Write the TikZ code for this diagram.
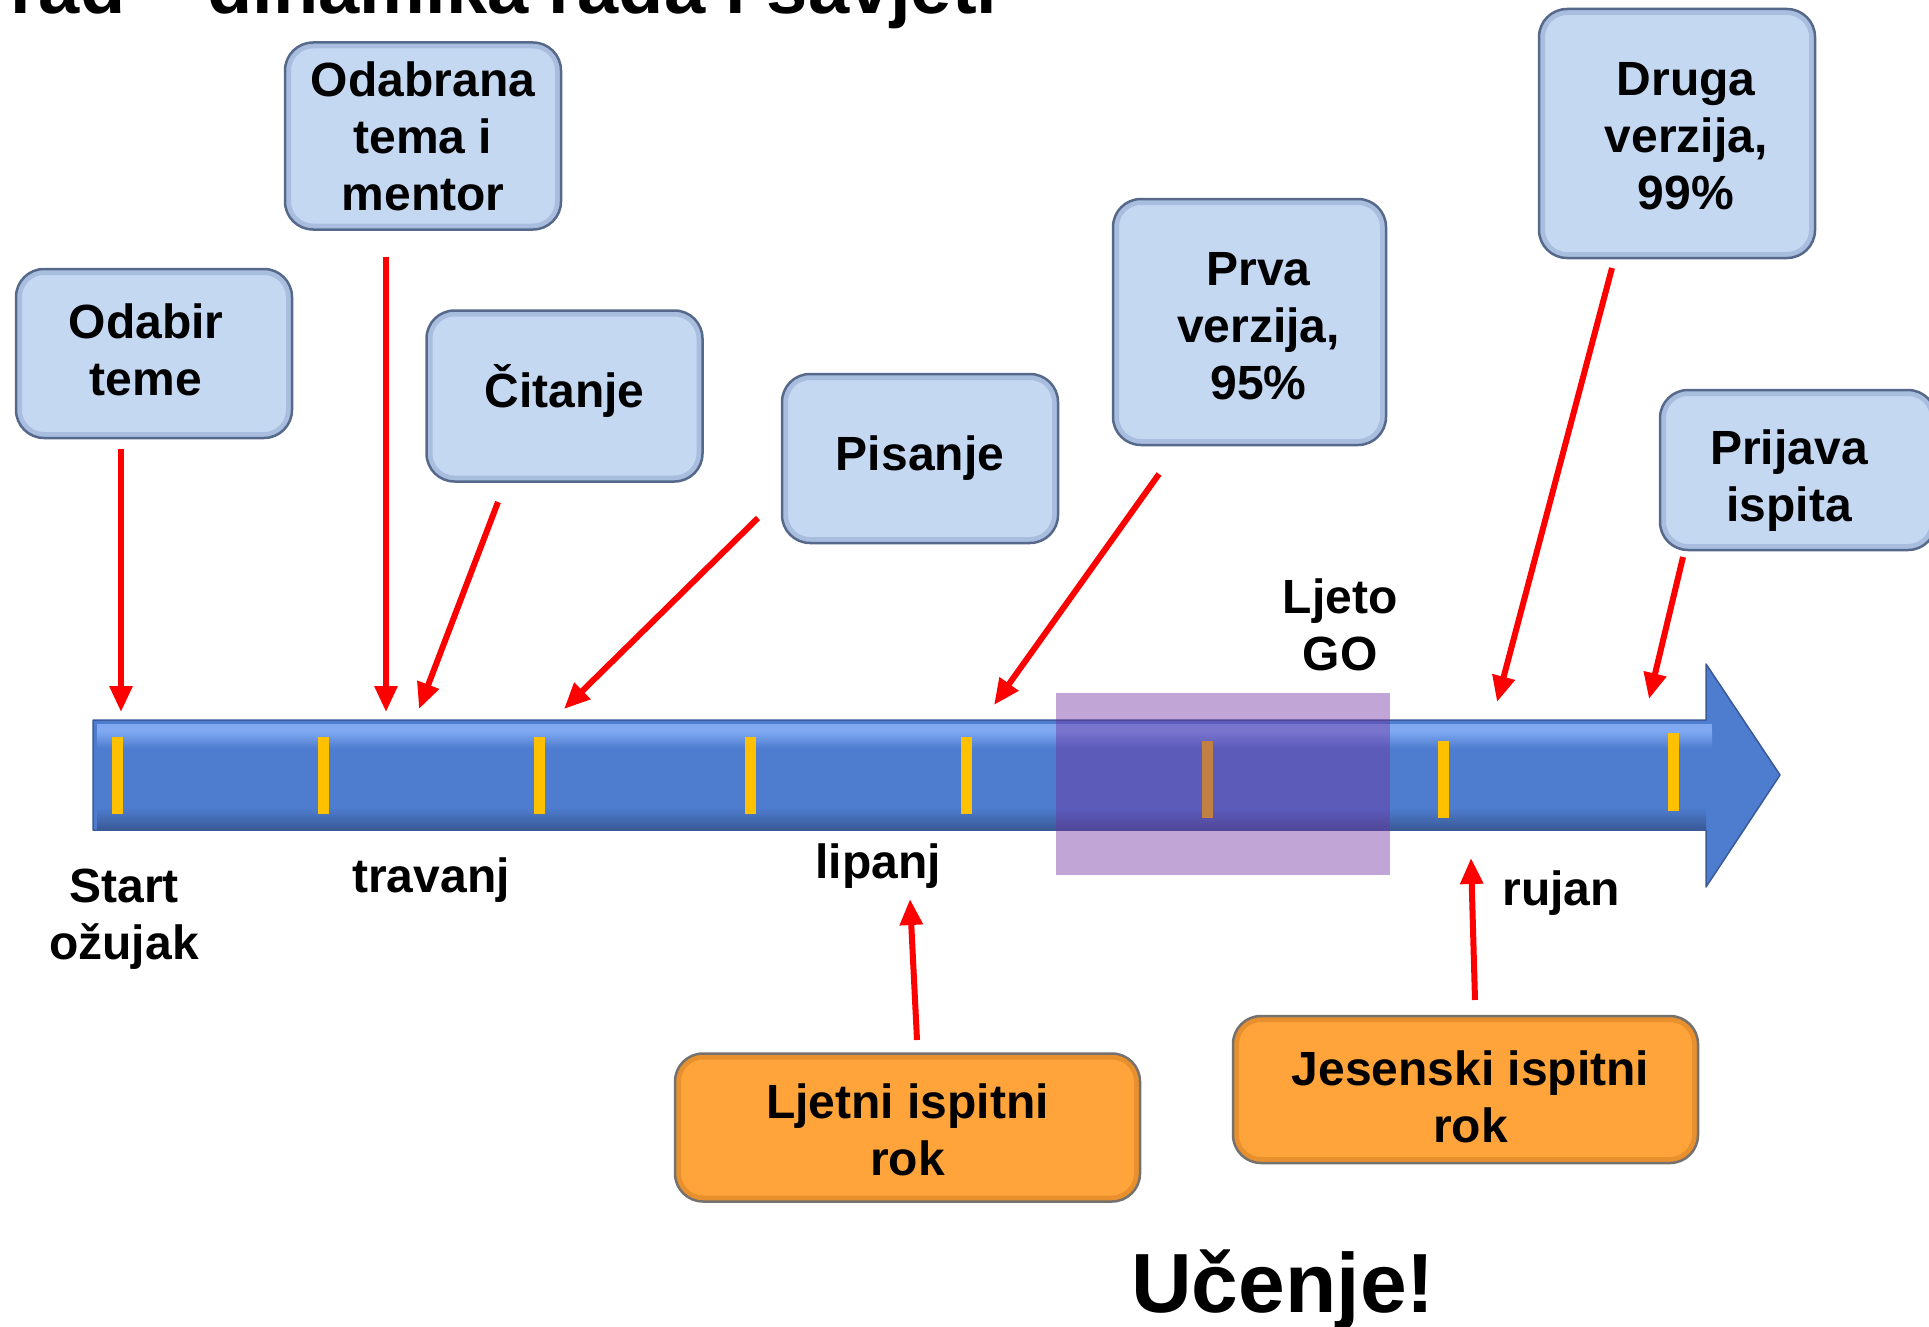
\documentclass[tikz,border=0pt]{standalone}
\usepackage{fontspec}
\setmainfont{Liberation Sans}
\usetikzlibrary{arrows.meta}
\definecolor{boxblue}{HTML}{C5D8F2}
\definecolor{boxedge}{HTML}{56698A}
\definecolor{boxbevel}{HTML}{A9BEDF}
\definecolor{boxorange}{HTML}{FFA33B}
\definecolor{orangebevel}{HTML}{E8902E}
\definecolor{orangeedge}{HTML}{75716F}
\definecolor{lineblue}{HTML}{4E7DCF}
\definecolor{lineedge}{HTML}{3A5A98}
\definecolor{linelight}{HTML}{80A9F2}
\definecolor{tickyellow}{HTML}{FFC000}
\definecolor{gopurple}{HTML}{7030A0}
\definecolor{arrowred}{HTML}{FF0000}
\tikzset{
  bevel/.style={path picture={\draw[line width=12pt, #1, rounded corners=28pt]
      (path picture bounding box.south west) rectangle (path picture bounding box.north east);}},
  card/.style={draw=boxedge, line width=2.5pt, fill=boxblue, rounded corners=28pt,
      minimum width=276pt, inner sep=0pt, bevel=boxbevel},
  exam/.style={card, draw=orangeedge, fill=boxorange, minimum width=465pt, bevel=orangebevel},
  lbl/.style={inner sep=0pt, align=center, font=\bfseries\fontsize{48}{57}\selectfont},
  redarrow/.style={draw=arrowred, line width=6pt, -{Triangle[length=26pt,width=22pt]}},
  tickmark/.style={fill=tickyellow}
}
\begin{document}
\begin{tikzpicture}[x=1pt,y=-1pt]
\useasboundingbox (0,0) rectangle (1929,1327);
\clip (0,0) rectangle (1929,1327);
\fill[white] (0,0) rectangle (1929,1327);

% title (cut off at top)
\node[anchor=base west, inner sep=0pt, font=\bfseries\fontsize{74}{80}\selectfont] (title) at (10,14) {rad – dinamika rada i savjeti};

% timeline arrow
\fill[lineblue] (93,720) -- (1706,720) -- (1706,664) -- (1780,775) -- (1706,887) -- (1706,830) -- (93,830) -- cycle;
\fill[linelight] (97,724) rectangle (1712,731);
\shade[top color=linelight, bottom color=lineblue] (97,731) rectangle (1712,748);
\shade[top color=lineblue, bottom color=lineedge] (97,808) rectangle (1706,829);
\draw[lineedge, line width=1.5pt, line join=round] (93,720) -- (1706,720) -- (1706,664) -- (1780,775) -- (1706,887) -- (1706,830) -- (93,830) -- cycle;

% ticks
\foreach \x/\a/\b in {117/737/814, 323/737/814, 539/737/814, 750/737/814, 966/737/814, 1207/741/818, 1443/741/818, 1673/733/811}
  \fill[tickmark] (\x-5.5,\a) rectangle (\x+5.5,\b);

% summer holiday overlay
\fill[gopurple, opacity=0.43] (1056,693) rectangle (1390,875);

% blue cards
\node[card, minimum height=169pt, label={[lbl, name=odabirT, xshift=-8pt, yshift=4pt]center:{Odabir\\teme}}] (odabir) at (154,353.5) {};
\node[card, minimum height=187pt, label={[lbl, name=odabranaT]center:{Odabrana\\tema i\\mentor}}] (odabrana) at (423,136) {};
\node[card, minimum height=171pt, label={[lbl, name=citanjeT, yshift=5pt]center:{Čitanje}}] (citanje) at (564.5,396) {};
\node[card, minimum height=169pt, label={[lbl, name=pisanjeT]center:{Pisanje}}] (pisanje) at (920,458.5) {};
\node[card, minimum height=246pt, minimum width=273pt, label={[lbl, name=prvaT, xshift=9pt, yshift=-4pt]center:{Prva\\verzija,\\95\%}}] (prva) at (1249.5,322) {};
\node[card, minimum height=249pt, label={[lbl, name=drugaT, xshift=9pt, yshift=-3pt]center:{Druga\\verzija,\\99\%}}] (druga) at (1677,133.5) {};
\node[card, minimum height=160pt, label={[lbl, name=prijavaT, xshift=-9pt, yshift=-11pt]center:{Prijava\\ispita}}] (prijava) at (1798,470) {};

% orange cards
\node[exam, minimum height=148pt, label={[lbl, name=ljetniT, yshift=-2pt]center:{Ljetni ispitni\\rok}}] (ljetni) at (907.5,1127.5) {};
\node[exam, minimum height=147pt, label={[lbl, name=jesenskiT, xshift=5pt, yshift=-7pt]center:{Jesenski ispitni\\rok}}] (jesenski) at (1465.5,1089.5) {};

% labels
\node[lbl] (start) at (124,919) {Start\\ožujak};
\node[lbl, anchor=base] (travanj) at (431,892) {travanj};
\node[lbl, anchor=base] (lipanj) at (878,878) {lipanj};
\node[lbl, anchor=base] (rujan) at (1561,905) {rujan};
\node[lbl] (ljeto) at (1340,625) {Ljeto\\GO};
\node[anchor=base, inner sep=0pt, font=\bfseries\fontsize{84}{90}\selectfont] (ucenje) at (1283,1312) {Učenje!};

% arrow ends
\coordinate (s1) at (121,449);  \coordinate (e1) at (121,712);
\coordinate (s2) at (386,257);  \coordinate (e2) at (386,712);
\coordinate (s3) at (498,502);  \coordinate (e3) at (419,709);
\coordinate (s4) at (758,518);  \coordinate (e4) at (564,709);
\coordinate (s5) at (1159,474); \coordinate (e5) at (994,705);
\coordinate (s6) at (1612,268); \coordinate (e6) at (1497,702);
\coordinate (s7) at (1683,557); \coordinate (e7) at (1649,699);
\coordinate (s8) at (917,1040); \coordinate (e8) at (910,899);
\coordinate (s9) at (1475,1000);\coordinate (e9) at (1471,858);

\foreach \i in {1,...,9}
  \draw[redarrow] (s\i) -- (e\i);
\end{tikzpicture}
\end{document}
